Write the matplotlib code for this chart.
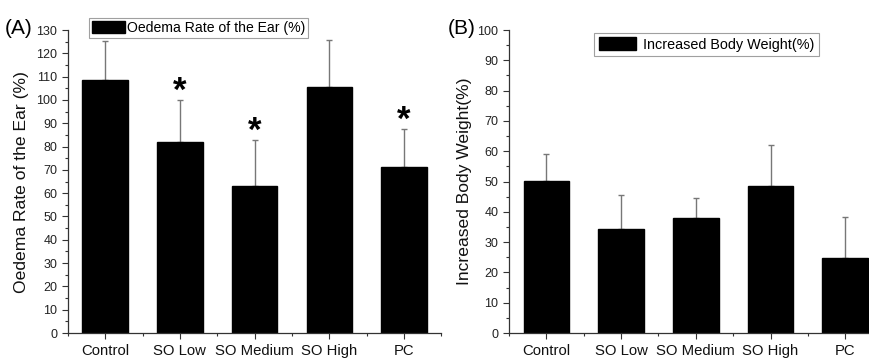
import matplotlib.pyplot as plt
from matplotlib.ticker import MultipleLocator
import numpy as np

groups = ["Control", "SO Low", "SO Medium", "SO High", "PC"]

# (A) oedema rate of the ear
oedema = [108.7, 82.0, 63.2, 105.4, 71.3]
oedema_err = [16.6, 18.0, 19.6, 20.3, 16.3]
oedema_sig = [False, True, True, False, True]

# (B) increased body weight
weight = [50.2, 34.2, 38.1, 48.5, 24.9]
weight_err = [8.9, 11.3, 6.6, 13.5, 13.3]

plt.rcParams['font.family'] = ['Liberation Sans', 'DejaVu Sans']

fig = plt.figure(figsize=(8.69, 3.59), dpi=100)
axA = fig.add_axes([0.078, 0.0724, 0.430, 0.844])
axB = fig.add_axes([0.5857, 0.0724, 0.430, 0.844])

x = np.arange(len(groups))


def draw(ax, vals, errs, label, ylabel, ymax):
    ax.bar(x, vals, width=0.61, color='black', edgecolor='black', label=label, zorder=2)
    ax.errorbar(x, vals, yerr=[np.zeros(len(vals)), errs], fmt='none',
                ecolor='#777777', elinewidth=1.0, capsize=2, capthick=1.0, zorder=1)
    ax.set_xlim(-0.5, len(groups) - 0.5)
    ax.set_ylim(0, ymax)
    ax.set_xticks(x)
    ax.set_xticklabels(groups, fontsize=10.7, color='#111111')
    ax.xaxis.set_minor_locator(MultipleLocator(0.5))
    ax.yaxis.set_major_locator(MultipleLocator(10))
    ax.yaxis.set_minor_locator(MultipleLocator(5))
    ax.tick_params(axis='y', which='major', labelsize=9, length=4, width=0.8, color='#333333', labelcolor='#222222')
    ax.tick_params(axis='y', which='minor', length=2.5, width=0.8, color='#333333')
    ax.tick_params(axis='x', which='major', length=4, width=0.8, color='#333333', pad=4)
    ax.tick_params(axis='x', which='minor', length=2.5, width=0.8, color='#333333')
    for s in ('top', 'right'):
        ax.spines[s].set_visible(False)
    for s in ('left', 'bottom'):
        ax.spines[s].set_color('#333333')
        ax.spines[s].set_linewidth(0.9)
    ax.set_ylabel(ylabel, fontsize=12.6, color='#111111')


draw(axA, oedema, oedema_err, "Oedema Rate of the Ear (%)", "Oedema Rate of the Ear (%)", 130)
axA.yaxis.set_label_coords(-0.105, 0.5)
for xi, v, e, s in zip(x, oedema, oedema_err, oedema_sig):
    if s:
        axA.annotate("*", xy=(xi, v + e), xytext=(0, -6), textcoords='offset points',
                     ha='center', va='bottom', fontsize=25, fontweight='bold')
legA = axA.legend(loc='upper left', bbox_to_anchor=(0.058, 1.04), fontsize=10.1,
                  frameon=True, fancybox=False, edgecolor='#888888', handlelength=2.3,
                  handleheight=0.9, handletextpad=0.2, borderpad=0.2, borderaxespad=0)
legA.get_frame().set_linewidth(0.8)

draw(axB, weight, weight_err, "Increased Body Weight(%)", "Increased Body Weight(%)", 100)
axB.yaxis.set_label_coords(-0.1, 0.5)
legB = axB.legend(loc='upper left', bbox_to_anchor=(0.228, 0.99), fontsize=10.4,
                  frameon=True, fancybox=False, edgecolor='#888888', handlelength=2.6,
                  handleheight=1.0, handletextpad=0.5, borderpad=0.3, borderaxespad=0)
legB.get_frame().set_linewidth(0.8)

fig.text(0.006, 0.905, "(A)", fontsize=15)
fig.text(0.515, 0.905, "(B)", fontsize=15)

fig.savefig("out.png", dpi=100)
